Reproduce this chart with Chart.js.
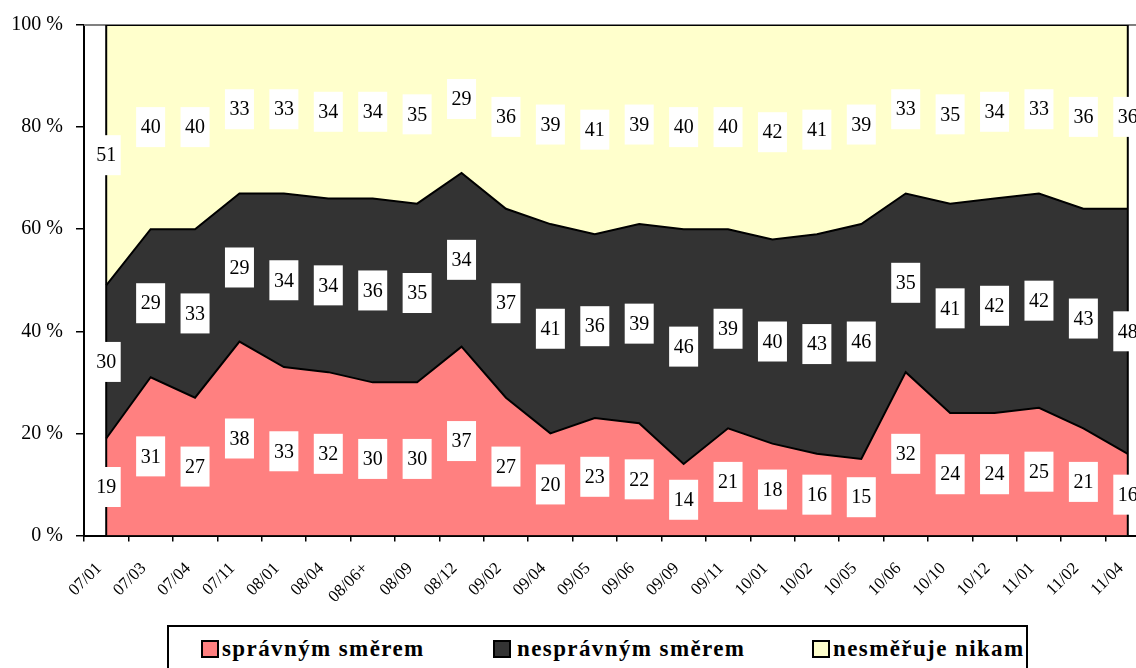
<!DOCTYPE html>
<html>
<head>
<meta charset="utf-8">
<script src="https://cdn.jsdelivr.net/npm/chart.js@4.4.0/dist/chart.umd.min.js"></script>
<style>
  html, body { margin: 0; padding: 0; background: #fff; overflow: hidden; }
  #obal { position: relative; width: 1136px; height: 668px; overflow: hidden; }
  #graf { position: absolute; left: 0; top: 0; }
  #legenda {
    position: absolute; left: 167px; top: 625px; width: 861px; height: 60px;
    box-sizing: border-box; border: 2px solid #000; background: #fff;
    font-family: "Times New Roman", Times, "Liberation Serif", Tinos, "DejaVu Serif", "Noto Serif", serif;
    font-weight: bold; font-size: 23px; letter-spacing: 1.4px; color: #000;
  }
  .ctverec { position: absolute; top: 13px; width: 18px; height: 18px; box-sizing: border-box; border: 2px solid #000; }
  .popis { position: absolute; top: 10px; line-height: 23px; white-space: nowrap; }
</style>
</head>
<body>
<div id="obal">
  <canvas id="graf" width="1150" height="668"></canvas>
  <div id="legenda"></div>
</div>
<script>
const obdobi = ["07/01", "07/03", "07/04", "07/11", "08/01", "08/04", "08/06+", "08/09", "08/12", "09/02", "09/04", "09/05",
  "09/06", "09/09", "09/11", "10/01", "10/02", "10/05", "10/06", "10/10", "10/12", "11/01", "11/02", "11/04"];
const spravnym = [19, 31, 27, 38, 33, 32, 30, 30, 37, 27, 20, 23, 22, 14, 21, 18, 16, 15, 32, 24, 24, 25, 21, 16];
const nespravnym = [30, 29, 33, 29, 34, 34, 36, 35, 34, 37, 41, 36, 39, 46, 39, 40, 43, 46, 35, 41, 42, 42, 43, 48];
const nikam = [51, 40, 40, 33, 33, 34, 34, 35, 29, 36, 39, 41, 39, 40, 40, 42, 41, 39, 33, 35, 34, 33, 36, 36];
const nazvy = ["správným směrem", "nesprávným směrem", "nesměřuje nikam"];
const barvy = ["#FF8080", "#333333", "#FFFFCC"];

const serif = "'Times New Roman', Times, 'Liberation Serif', Tinos, 'DejaVu Serif', 'Noto Serif', serif";

// okraje plochy: šedý horní okraj a svislé hrany oblasti
const okraje = {
  id: "okraje",
  beforeDatasetsDraw(chart) {
    const { ctx, chartArea } = chart;
    ctx.save();
    ctx.strokeStyle = "#808080";
    ctx.lineWidth = 2;
    ctx.beginPath();
    ctx.moveTo(chartArea.left, chartArea.top);
    ctx.lineTo(chartArea.right, chartArea.top);
    ctx.stroke();
    ctx.restore();
  },
  afterDatasetsDraw(chart) {
    const { ctx, scales: { x, y } } = chart;
    ctx.save();
    ctx.strokeStyle = "#000";
    ctx.lineWidth = 2;
    [0, obdobi.length - 1].forEach(i => {
      const px = x.getPixelForValue(i);
      ctx.beginPath();
      ctx.moveTo(px, y.getPixelForValue(0));
      ctx.lineTo(px, y.getPixelForValue(100));
      ctx.stroke();
    });
    ctx.restore();
  }
};

// popisky hodnot v bílých rámečcích uprostřed pásu
const popisky = {
  id: "popisky",
  afterDatasetsDraw(chart) {
    const { ctx, scales: { x, y } } = chart;
    const zaklad = obdobi.map(() => 0);
    ctx.save();
    ctx.font = "20px " + serif;
    ctx.textAlign = "center";
    ctx.textBaseline = "middle";
    chart.data.datasets.forEach(ds => {
      ds.data.forEach((v, i) => {
        const stred = zaklad[i] + v / 2;
        zaklad[i] += v;
        const px = x.getPixelForValue(i);
        const py = y.getPixelForValue(stred);
        const txt = String(v);
        const w = ctx.measureText(txt).width + 9;
        const h = 40;
        ctx.fillStyle = "#fff";
        ctx.fillRect(px - w / 2, py - h / 2, w, h);
        ctx.fillStyle = "#000";
        ctx.fillText(txt, px, py + 1);
      });
    });
    ctx.restore();
  }
};

new Chart(document.getElementById("graf"), {
  type: "line",
  data: {
    labels: obdobi,
    datasets: [
      { label: nazvy[0], data: spravnym, backgroundColor: barvy[0], fill: "origin" },
      { label: nazvy[1], data: nespravnym, backgroundColor: barvy[1], fill: "-1" },
      { label: nazvy[2], data: nikam, backgroundColor: barvy[2], fill: "-1" },
    ],
  },
  options: {
    responsive: false,
    animation: false,
    layout: { autoPadding: false, padding: { top: 21, left: 0, right: 0, bottom: 0 } },
    elements: {
      line: { tension: 0, borderColor: "#000", borderWidth: 2 },
      point: { radius: 0, hoverRadius: 0 },
    },
    plugins: {
      legend: { display: false },
      tooltip: { enabled: false },
    },
    scales: {
      x: {
        z: 1,
        offset: true,
        afterFit: s => { s.height = 132.5; s.paddingLeft = 0; s.paddingRight = 0; },
        grid: { offset: true, drawOnChartArea: false, color: "#000", lineWidth: 1.5, tickLength: 6 },
        border: { color: "#000", width: 2 },
        ticks: {
          autoSkip: false, maxRotation: 45, minRotation: 45, padding: 17, labelOffset: -7,
          color: "#000", font: { family: serif, size: 17 },
        },
      },
      y: {
        stacked: true,
        min: 0,
        max: 100,
        afterFit: s => { s.width = 84; },
        grid: { drawOnChartArea: false, color: "#000", lineWidth: 1.5, tickLength: 8 },
        border: { color: "#000", width: 2 },
        ticks: {
          stepSize: 20, padding: 13, color: "#000",
          font: { family: serif, size: 20 },
          callback: v => v + " %",
        },
      },
    },
  },
  plugins: [okraje, popisky],
});

// legenda pod grafem
const legenda = document.getElementById("legenda");
const pozice = [[32, 53], [324, 348], [643, 664]];
nazvy.forEach((n, i) => {
  const c = document.createElement("div");
  c.className = "ctverec";
  c.style.left = pozice[i][0] + "px";
  c.style.background = barvy[i];
  const t = document.createElement("div");
  t.className = "popis";
  t.style.left = pozice[i][1] + "px";
  t.textContent = n;
  legenda.appendChild(c);
  legenda.appendChild(t);
});
</script>
</body>
</html>
